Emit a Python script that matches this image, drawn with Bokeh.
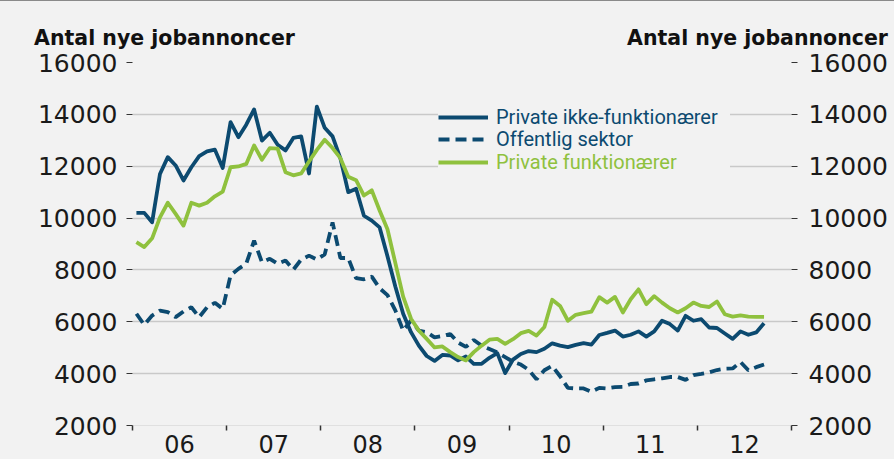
from bokeh.plotting import figure
from bokeh.models import Range1d, FixedTicker, LinearAxis, Legend, LegendItem
from bokeh.embed import file_html
from bokeh.resources import INLINE

# ---------------- data ----------------
start_year = 2006
years = [2006, 2007, 2008, 2009, 2010, 2011, 2012]
year_labels = ["06", "07", "08", "09", "10", "11", "12"]
year_bounds = [2006, 2007, 2008, 2009, 2010, 2011, 2012, 2013]
y_ticks = [2000, 4000, 6000, 8000, 10000, 12000, 14000, 16000]

series_names = ["Private ikke-funktionærer", "Offentlig sektor", "Private funktionærer"]
title_text = "Antal nye jobannoncer"

# monthly values, Jan 2006 .. Sep 2012
private_ikke_funk = [
    10200, 10200, 9840, 11700, 12350, 12030, 11450, 11960, 12390, 12570, 12640, 11930,
    13700, 13120, 13600, 14190, 12990, 13290, 12830, 12610, 13090, 13150, 11720, 14300,
    13480, 13150, 12300, 11000, 11130, 10090, 9900, 9640, 8530, 7360, 6310, 5600,
    5080, 4680, 4490, 4720, 4700, 4510, 4660, 4380, 4380, 4610, 4790, 4020,
    4540, 4760, 4870, 4830, 4960, 5170, 5080, 5020, 5110, 5180, 5120, 5490,
    5570, 5660, 5430, 5500, 5630, 5430, 5630, 6040, 5910, 5660, 6230, 6040,
    6100, 5780, 5760, 5550, 5340, 5630, 5500, 5590, 5940,
]
offentlig = [
    6310, 5880, 6240, 6430, 6370, 6180, 6400, 6560, 6180, 6560, 6730, 6500,
    7790, 8040, 8240, 9130, 8300, 8430, 8240, 8360, 8010, 8400, 8550, 8400,
    8600, 9830, 8460, 8460, 7680, 7640, 7740, 7290, 7030, 6440, 5660, 6050,
    5660, 5600, 5400, 5450, 5530, 5200, 5030, 5300, 5080, 4950, 4820, 4640,
    4460, 4350, 4150, 3780, 4130, 4300, 3900, 3450, 3430, 3430, 3300, 3450,
    3430, 3480, 3490, 3600, 3620, 3740, 3780, 3820, 3870, 3870, 3760, 3940,
    3990, 4050, 4140, 4190, 4200, 4450, 4130, 4250, 4350,
]
private_funk = [
    9070, 8880, 9220, 10030, 10590, 10160, 9710, 10590, 10480, 10590, 10840, 11020,
    11960, 11990, 12090, 12800, 12250, 12700, 12680, 11770, 11650, 11720, 12180, 12630,
    13020, 12700, 12310, 11590, 11460, 10870, 11070, 10290, 9570, 8270, 6970, 6120,
    5660, 5340, 5010, 5050, 4830, 4640, 4510, 4830, 5080, 5310, 5340, 5150,
    5330, 5560, 5650, 5470, 5800, 6850, 6610, 6040, 6270, 6330, 6390, 6950,
    6740, 6960, 6360, 6870, 7250, 6680, 6990, 6740, 6520, 6360, 6520, 6740,
    6610, 6570, 6780, 6290, 6200, 6250, 6200, 6190, 6190,
]

# month positions (mid-month) on a year axis
months = [start_year + (i + 0.5) / 12 for i in range(len(private_ikke_funk))]

DARK = "#0c4a70"
GREEN = "#8fc13e"
BG = "#f2f2f2"
TXT = "#1a1a1a"

W, H = 894, 450
FRAME_L, FRAME_R = 132, 791          # frame edges in pixels
p = figure(width=W, height=H, output_backend="svg", toolbar_location=None,
           x_range=Range1d(year_bounds[0], year_bounds[-1]),
           y_range=Range1d(y_ticks[0], y_ticks[-1]),
           min_border_left=FRAME_L, min_border_right=W - FRAME_R,
           min_border_top=54, min_border_bottom=33,
           background_fill_color=BG, border_fill_color=BG, outline_line_color=None)

# x axis: labels mid-year, ticks at year boundaries
p.xaxis.ticker = FixedTicker(ticks=[y + 0.5 for y in years], minor_ticks=year_bounds)
p.xaxis.major_label_overrides = {y + 0.5: lab for y, lab in zip(years, year_labels)}
p.xaxis.major_tick_out = 0
p.xaxis.major_tick_in = 0
p.xaxis.minor_tick_out = 5
p.xaxis.minor_tick_in = 0
p.xaxis.minor_tick_line_color = "#333333"
p.xaxis.minor_tick_line_width = 1.5
p.xaxis.axis_line_color = "#e0e0e0"
p.xaxis.major_label_standoff = 4
p.xaxis.major_label_text_font = "DejaVu Sans"
p.xaxis.major_label_text_font_size = "24px"
p.xaxis.major_label_text_color = TXT

right_axis = LinearAxis()
p.add_layout(right_axis, "right")
for ax in [p.yaxis[0], right_axis]:
    ax.ticker = FixedTicker(ticks=y_ticks)
    ax.axis_line_color = None
    ax.major_tick_out = 6
    ax.major_tick_in = 0
    ax.major_tick_line_color = "#333333"
    ax.minor_tick_line_color = None
    ax.major_label_standoff = 9
    ax.major_label_text_font = "DejaVu Sans"
    ax.major_label_text_font_size = "25px"
    ax.major_label_text_color = TXT
right_axis.major_label_standoff = 11

# the two axis titles ("Antal nye jobannoncer") above the left and right axes,
# drawn as the labels of an otherwise invisible top axis
px_per_year = (FRAME_R - FRAME_L) / (year_bounds[-1] - year_bounds[0])
title_centers_px = [164, 757]
title_pos = [year_bounds[0] + (c - FRAME_L) / px_per_year for c in title_centers_px]
title_axis = LinearAxis(ticker=FixedTicker(ticks=title_pos),
                        major_label_overrides={t: title_text for t in title_pos})
title_axis.axis_line_color = None
title_axis.major_tick_out = 0
title_axis.major_tick_in = 0
title_axis.minor_tick_line_color = None
title_axis.major_label_standoff = 13
title_axis.major_label_text_font = "DejaVu Sans"
title_axis.major_label_text_font_style = "bold"
title_axis.major_label_text_font_size = "20.5px"
title_axis.major_label_text_color = "#111111"
p.add_layout(title_axis, "above")

p.xgrid.visible = False
p.ygrid.ticker = FixedTicker(ticks=y_ticks[1:])
p.ygrid.grid_line_color = "#c9c9c9"
p.ygrid.grid_line_width = 1.5

r1 = p.line(months, private_ikke_funk, line_color=DARK, line_width=3.8, line_join="round")
r2 = p.line(months, offentlig, line_color=DARK, line_width=3.8, line_dash="11 6")
r3 = p.line(months, private_funk, line_color=GREEN, line_width=3.8, line_join="round")


def make_legend(renderer, label, color, loc):
    return Legend(items=[LegendItem(label=label, renderers=[renderer])],
                  location=loc, orientation="vertical", padding=0, margin=0, spacing=0,
                  glyph_width=50, glyph_height=20, label_standoff=8, label_width=234,
                  label_text_font="Roboto", label_text_font_size="20px",
                  label_text_color=color, background_fill_color=BG, background_fill_alpha=1,
                  border_line_color=None)


leg1 = make_legend(r1, series_names[0], DARK, (306, 296))
leg3 = make_legend(r3, series_names[2], GREEN, (306, 251))
leg2 = make_legend(r2, series_names[1], DARK, (306, 274))
p.add_layout(leg1)
p.add_layout(leg3)
p.add_layout(leg2)

html = file_html(p, INLINE)
style = ("<style>html{background:#f2f2f2;overflow:hidden;}"
         " body{padding-top:7px !important;border-top:1px solid #8a8a8a;"
         "box-sizing:border-box;overflow:hidden;}</style>")
html = html.replace("<head>", "<head>" + style, 1)
open("out.html", "w").write(html)
